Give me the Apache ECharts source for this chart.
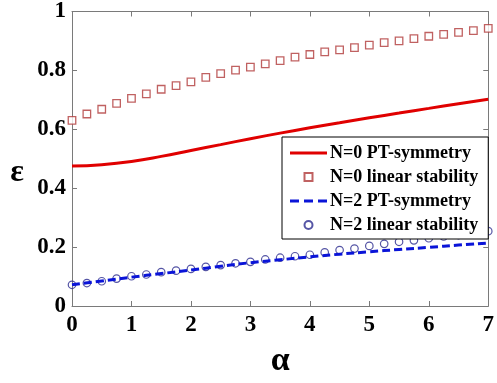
<!DOCTYPE html>
<html>
<head>
<meta charset="utf-8">
<script src="https://cdn.jsdelivr.net/npm/echarts@6/dist/echarts.min.js"></script>
<style>
  html, body { margin: 0; padding: 0; background: #fff; }
  #chart { width: 497px; height: 383px; }
</style>
</head>
<body>
<div id="chart"></div>
<script>
// alpha values for marker series (step 0.25)
var alphaMarks = [0, 0.25, 0.5, 0.75, 1, 1.25, 1.5, 1.75, 2, 2.25, 2.5, 2.75, 3, 3.25, 3.5, 3.75,
                  4, 4.25, 4.5, 4.75, 5, 5.25, 5.5, 5.75, 6, 6.25, 6.5, 6.75, 7];
// N=0 linear stability (squares)
var n0Stab = [0.630, 0.652, 0.668, 0.688, 0.705, 0.720, 0.736, 0.748, 0.761, 0.776, 0.789, 0.801, 0.811,
              0.822, 0.833, 0.845, 0.854, 0.863, 0.870, 0.877, 0.886, 0.894, 0.900, 0.908, 0.916,
              0.922, 0.929, 0.935, 0.943];
// N=2 linear stability (circles)
var n2Stab = [0.072, 0.078, 0.084, 0.093, 0.101, 0.107, 0.115, 0.120, 0.126, 0.133, 0.139, 0.145, 0.150,
              0.158, 0.164, 0.169, 0.174, 0.182, 0.190, 0.195, 0.204, 0.211, 0.218, 0.223, 0.230,
              0.236, 0.241, 0.246, 0.254];
// alpha values for the curves (step 0.5)
var alphaLine = [0, 0.5, 1, 1.5, 2, 2.5, 3, 3.5, 4, 4.5, 5, 5.5, 6, 6.5, 7];
var n0PT = [0.475, 0.480, 0.491, 0.508, 0.528, 0.548, 0.568, 0.587, 0.605, 0.622, 0.639, 0.655, 0.671, 0.687, 0.702];
var n2PT = [0.072, 0.085, 0.098, 0.110, 0.122, 0.135, 0.147, 0.157, 0.167, 0.176, 0.184, 0.192, 0.199, 0.207, 0.214];

var xTicks = [0, 1, 2, 3, 4, 5, 6, 7];
var yTicks = [0, 0.2, 0.4, 0.6, 0.8, 1];

function pairs(xs, ys) {
    var out = [];
    for (var i = 0; i < xs.length; i++) out.push([xs[i], ys[i]]);
    return out;
}

var serif = '"Liberation Serif", "Times New Roman", serif';
var axisGray = '#7a7a7a';
// legend icons
var squarePath = 'path://M0,0L10,0L10,10L0,10Z';
var solidPath = 'path://M0,0L37,0L37,3L0,3Z';
var dashPath = 'path://M0,0L9,0L9,3L0,3Z M14,0L23,0L23,3L14,3Z M28,0L37,0L37,3L28,3Z';

var chart = echarts.init(document.getElementById('chart'));

var baseX = {
    type: 'value', min: 0, max: 7, interval: 1,
    axisLine: { show: true, onZero: false, lineStyle: { color: axisGray, width: 1 } },
    axisTick: { show: true, inside: true, length: 5, lineStyle: { color: axisGray } },
    splitLine: { show: false }
};
var baseY = {
    type: 'value', min: 0, max: 1, interval: 0.2,
    axisLine: { show: true, onZero: false, lineStyle: { color: axisGray, width: 1 } },
    axisTick: { show: true, inside: true, length: 5, lineStyle: { color: axisGray } },
    splitLine: { show: false }
};

chart.setOption({
    animation: false,
    backgroundColor: '#fff',
    grid: { left: 72, right: 6, top: 9, bottom: 63 },
    graphic: [{
        type: 'text', x: 17, y: 173,
        style: { text: 'ε', fontFamily: serif, fontSize: 32, fontWeight: 'bold', fill: '#000',
                 align: 'center', verticalAlign: 'middle' }
    }],
    xAxis: [
        Object.assign({}, baseX, {
            position: 'bottom',
            name: 'α', nameLocation: 'middle', nameGap: 38,
            nameTextStyle: { fontFamily: serif, fontSize: 34, fontWeight: 'bold', color: '#000' },
            axisLabel: {
                fontFamily: serif, fontSize: 23, fontWeight: 'bold', color: '#000', margin: 8,
                formatter: function (v) { return xTicks.indexOf(v) >= 0 ? String(v) : ''; }
            }
        }),
        Object.assign({}, baseX, { position: 'top', axisLabel: { show: false } })
    ],
    yAxis: [
        Object.assign({}, baseY, {
            position: 'left',
            axisLabel: {
                fontFamily: serif, fontSize: 23, fontWeight: 'bold', color: '#000', margin: 6,
                formatter: function (v) {
                    var r = Math.round(v * 10) / 10;
                    return yTicks.indexOf(r) >= 0 ? String(r) : '';
                }
            }
        }),
        Object.assign({}, baseY, { position: 'right', axisLabel: { show: false } })
    ],
    legend: {
        orient: 'vertical',
        left: 282, top: 137,
        width: 190,
        padding: [7, 10, 5, 8],
        itemGap: 6,
        itemWidth: 37,
        itemHeight: 8,
        symbolKeepAspect: true,
        borderColor: '#000',
        borderWidth: 1,
        borderRadius: 0,
        backgroundColor: '#fff',
        textStyle: { fontFamily: serif, fontSize: 18, fontWeight: 'bold', color: '#000', padding: [0, 0, 0, -2] },
        data: [
            { name: 'N=0 PT-symmetry', icon: solidPath },
            { name: 'N=0 linear stability', icon: squarePath },
            { name: 'N=2 PT-symmetry', icon: dashPath },
            { name: 'N=2 linear stability', icon: 'circle' }
        ]
    },
    series: [
        {
            name: 'N=0 PT-symmetry', type: 'line', smooth: true, symbol: 'none',
            data: pairs(alphaLine, n0PT),
            lineStyle: { color: '#e00000', width: 3 }, itemStyle: { color: '#e00000' },
            z: 3
        },
        {
            name: 'N=0 linear stability', type: 'scatter', symbol: 'rect', symbolSize: 7.5,
            data: pairs(alphaMarks, n0Stab),
            itemStyle: { color: '#fff', borderColor: '#b03a3a', borderWidth: 1.3 },
            z: 2
        },
        {
            name: 'N=2 PT-symmetry', type: 'line', smooth: true, symbol: 'none',
            data: pairs(alphaLine, n2PT),
            lineStyle: { color: '#0a14d8', width: 3, type: [8, 4] }, itemStyle: { color: '#0a14d8' },
            z: 3
        },
        {
            name: 'N=2 linear stability', type: 'scatter', symbol: 'circle', symbolSize: 7.5,
            data: pairs(alphaMarks, n2Stab),
            itemStyle: { color: 'rgba(255,255,255,0)', borderColor: '#2a2a8e', borderWidth: 1.2 },
            z: 2
        }
    ]
});
</script>
</body>
</html>
